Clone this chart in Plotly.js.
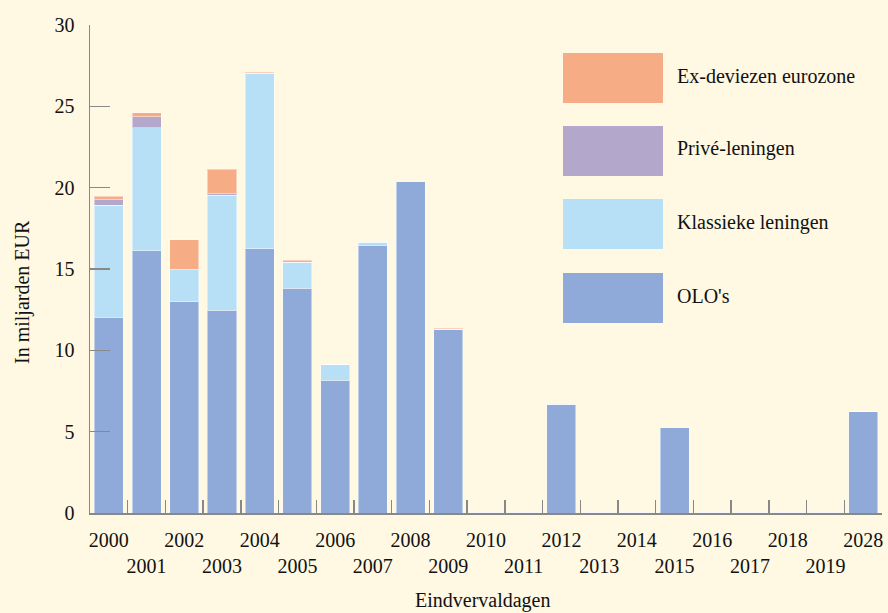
<!DOCTYPE html>
<html>
<head>
<meta charset="utf-8">
<script src="https://cdn.plot.ly/plotly-3.0.1.min.js"></script>
<style>
html,body{margin:0;padding:0;background:#fff8e3;}
#chart{width:888px;height:613px;}
</style>
</head>
<body>
<div id="chart"></div>
<script>
const categories = ["2000","2001","2002","2003","2004","2005","2006","2007","2008","2009","2010","2011","2012","2013","2014","2015","2016","2017","2018","2019","2028"];
const olo       = [12.03,16.12,12.99,12.46,16.23,13.83,8.17,16.47,20.4,11.29,0.06,0.06,6.68,0.06,0.06,5.27,0.06,0.06,0.06,0.06,6.23];
const klassiek  = [6.9,7.56,1.95,7.07,10.81,1.58,0.93,0.17,0,0,0,0,0,0,0,0,0,0,0,0,0];
const prive     = [0.33,0.68,0.05,0.1,0,0,0,0,0,0,0,0,0,0,0,0,0,0,0,0,0];
const exdev     = [0.2,0.24,1.8,1.5,0.05,0.14,0,0,0,0.08,0,0,0,0,0,0,0,0,0,0,0];
const seriesNames = ["OLO's","Klassieke leningen","Privé-leningen","Ex-deviezen eurozone"];
const seriesColors = ["#8fa9d8","#b7dff5","#b4a7cc","#f6ac85"];
const tickLabels = categories.map((c,i)=> i%2===0 ? c : "<br>"+c);
const yTicks = [0,5,10,15,20,25,30];

const FONT = "Liberation Serif, DejaVu Serif, serif";
const values = [olo, klassiek, prive, exdev];
const traces = values.map((v,k)=>({
  type:"bar", x:categories, y:v, name:seriesNames[k],
  marker:{color:seriesColors[k], line:{color:"rgba(255,255,255,0.45)", width:1}},
  showlegend:false, hoverinfo:"x+y+name"
}));

const shapes = [], annotations = [];
const legTop = [53,126,199,273];
const plotTop = 25, plotBottom = 513, plotH = plotBottom - plotTop;
const plotLeft = 90, plotRight = 882, plotW = plotRight - plotLeft;
const px2x = p => (p - plotLeft)/plotW;
const px2y = p => (plotBottom - p)/plotH;
for (let j=0;j<4;j++){
  const k = 3-j;
  shapes.push({type:"rect", xref:"paper", yref:"paper",
    x0:px2x(563), x1:px2x(663), y0:px2y(legTop[j]+50), y1:px2y(legTop[j]),
    fillcolor:seriesColors[k], line:{width:0}});
  annotations.push({xref:"paper", yref:"paper", x:px2x(675), y:px2y(legTop[j]+23),
    xanchor:"left", yanchor:"middle", text:seriesNames[k], showarrow:false,
    font:{family:FONT, size:20, color:"#111"}});
}
annotations.push({xref:"paper", yref:"paper", x:px2x(22), y:px2y(292), textangle:-90,
  text:"In miljarden EUR", showarrow:false, xanchor:"center", yanchor:"middle",
  font:{family:FONT, size:20, color:"#111"}});
annotations.push({xref:"paper", yref:"paper", x:px2x(483), y:px2y(600),
  text:"Eindvervaldagen", showarrow:false, xanchor:"center", yanchor:"middle",
  font:{family:FONT, size:20, color:"#111"}});

const layout = {
  width:888, height:613,
  paper_bgcolor:"#fff8e3", plot_bgcolor:"#fff8e3",
  margin:{l:plotLeft, r:888-plotRight, t:plotTop, b:613-plotBottom},
  barmode:"stack", bargap:0.23,
  font:{family:FONT, size:20, color:"#111"},
  xaxis:{type:"category", tickmode:"array", tickvals:categories, ticktext:tickLabels,
    tickson:"boundaries", ticks:"inside", ticklen:13, tickcolor:"#888", tickwidth:1.5,
    showline:true, linecolor:"#888", linewidth:1.5, showgrid:false, zeroline:false,
    ticklabelstandoff:8, tickangle:0, tickfont:{family:FONT, size:20, color:"#111"}},
  yaxis:{range:[0,30], tickmode:"array", tickvals:yTicks, ticks:"inside", ticklen:20,
    tickcolor:"#888", tickwidth:1.5, showline:true, linecolor:"#888", linewidth:1.5,
    showgrid:false, zeroline:false, ticklabelstandoff:10, tickfont:{family:FONT, size:20, color:"#111"}},
  shapes:shapes, annotations:annotations
};
Plotly.newPlot("chart", traces, layout, {displayModeBar:false, staticPlot:true});
</script>
</body>
</html>
